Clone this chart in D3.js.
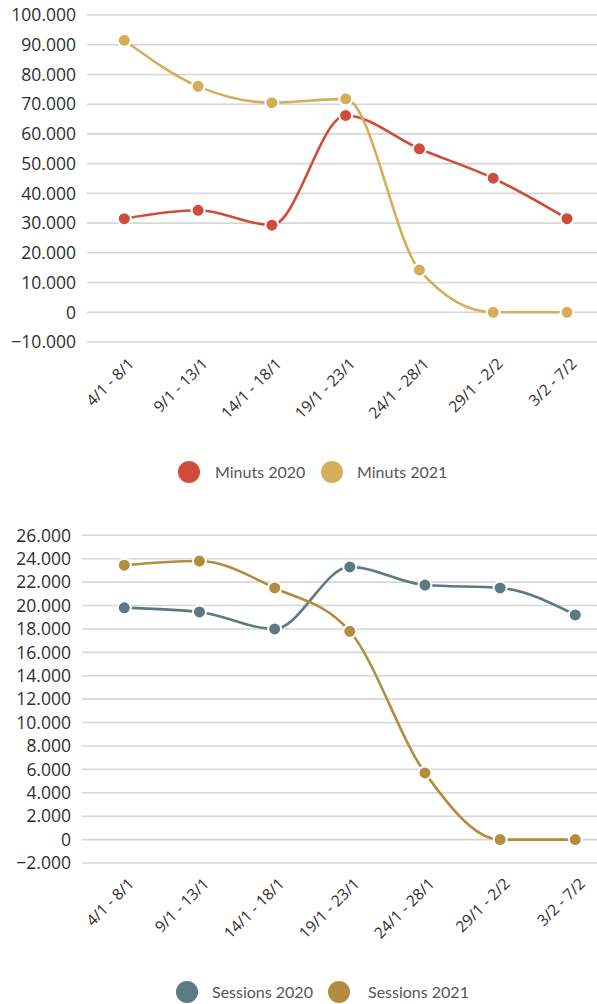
<!DOCTYPE html>
<html>
<head>
<meta charset="utf-8">
<script src="https://cdn.jsdelivr.net/npm/d3@7"></script>
<style>
  html, body { margin: 0; padding: 0; background: #fff; }
  svg { display: block; }
</style>
</head>
<body>
<svg id="chart" width="597" height="1004"></svg>
<script>
// Weekly periods shared by both panels
const periods = ["4/1 - 8/1", "9/1 - 13/1", "14/1 - 18/1", "19/1 - 23/1", "24/1 - 28/1", "29/1 - 2/2", "3/2 - 7/2"];

// Minutes watched per week
const minuts2020 = [31500, 34300, 29300, 66200, 55000, 45100, 31500];
const minuts2021 = [91500, 76000, 70500, 71800, 14200, 0, 0];

// Sessions per week
const sessions2020 = [19800, 19450, 18000, 23300, 21750, 21500, 19200];
const sessions2021 = [23450, 23800, 21500, 17800, 5700, 0, 0];

// Axis ticks
const minutsTicks = [-10000, 0, 10000, 20000, 30000, 40000, 50000, 60000, 70000, 80000, 90000, 100000];
const sessionsTicks = [-2000, 0, 2000, 4000, 6000, 8000, 10000, 12000, 14000, 16000, 18000, 20000, 22000, 24000, 26000];

const colors = {
  minuts2020: "#d14b3b",
  minuts2021: "#d5ad5b",
  sessions2020: "#5b7a82",
  sessions2021: "#b48c40"
};

const locale = d3.formatLocale({ decimal: ",", thousands: ".", grouping: [3], currency: ["", ""], minus: "\u2212" });
const fmt = locale.format(",d");

const svg = d3.select("#chart");

function drawPanel(cfg) {
  const g = svg.append("g");
  const y = d3.scaleLinear().domain(cfg.domain).range(cfg.yRange);
  const x = d3.scalePoint().domain(periods).range(cfg.xRange);

  // horizontal gridlines
  g.append("g").selectAll("line").data(cfg.ticks).join("line")
    .attr("x1", cfg.gridLeft).attr("x2", 597)
    .attr("y1", d => y(d)).attr("y2", d => y(d))
    .attr("stroke", "#d6d6d6").attr("stroke-width", 1.6);

  // y tick labels
  g.append("g").selectAll("text").data(cfg.ticks).join("text")
    .attr("x", cfg.labelRight).attr("y", d => y(d))
    .attr("dy", "0.36em")
    .attr("text-anchor", "end")
    .attr("font-family", "'Open Sans'")
    .attr("font-size", 17.5)
    .attr("fill", "#2e2e2e")
    .text(d => fmt(d));

  // x category labels, rotated
  g.append("g").selectAll("text").data(periods).join("text")
    .attr("transform", d => `translate(${x(d) + 3},${cfg.xLabelY}) rotate(-45)`)
    .attr("text-anchor", "end")
    .attr("dy", "0.7em")
    .attr("font-family", "'Open Sans'")
    .attr("font-size", 15.5)
    .attr("fill", "#2e2e2e")
    .text(d => d);

  const line = d3.line()
    .x((d, i) => x(periods[i]))
    .y(d => y(d))
    .curve(d3.curveMonotoneX);

  cfg.series.forEach(s => {
    g.append("path")
      .datum(s.values)
      .attr("fill", "none")
      .attr("stroke", s.color)
      .attr("stroke-width", 2.6)
      .attr("d", line);
  });
  cfg.series.forEach(s => {
    g.append("g").selectAll("circle").data(s.values).join("circle")
      .attr("cx", (d, i) => x(periods[i]))
      .attr("cy", d => y(d))
      .attr("r", 6.5)
      .attr("fill", s.color)
      .attr("stroke", "#fff")
      .attr("stroke-width", 2);
  });

  // legend
  const lg = g.append("g");
  cfg.series.forEach((s, i) => {
    lg.append("circle")
      .attr("cx", cfg.legend[i].cx).attr("cy", cfg.legendY)
      .attr("r", 11).attr("fill", s.color);
    lg.append("text")
      .attr("x", cfg.legend[i].tx).attr("y", cfg.legendY)
      .attr("dy", "0.35em")
      .attr("font-family", "Lato")
      .attr("font-size", 16)
      .attr("fill", "#555")
      .text(s.name);
  });
}

drawPanel({
  domain: [-10000, 100000],
  yRange: [342, 15],
  xRange: [124.3, 567],
  ticks: minutsTicks,
  gridLeft: 87,
  labelRight: 76,
  xLabelY: 357,
  legendY: 472,
  legend: [{ cx: 189, tx: 215 }, { cx: 332, tx: 357 }],
  series: [
    { name: "Minuts 2020", values: minuts2020, color: colors.minuts2020 },
    { name: "Minuts 2021", values: minuts2021, color: colors.minuts2021 }
  ]
});

drawPanel({
  domain: [-2000, 26000],
  yRange: [863, 535.3],
  xRange: [124.3, 575.3],
  ticks: sessionsTicks,
  gridLeft: 82,
  labelRight: 71,
  xLabelY: 877,
  legendY: 992,
  legend: [{ cx: 187, tx: 212 }, { cx: 339, tx: 368 }],
  series: [
    { name: "Sessions 2020", values: sessions2020, color: colors.sessions2020 },
    { name: "Sessions 2021", values: sessions2021, color: colors.sessions2021 }
  ]
});
</script>
</body>
</html>
